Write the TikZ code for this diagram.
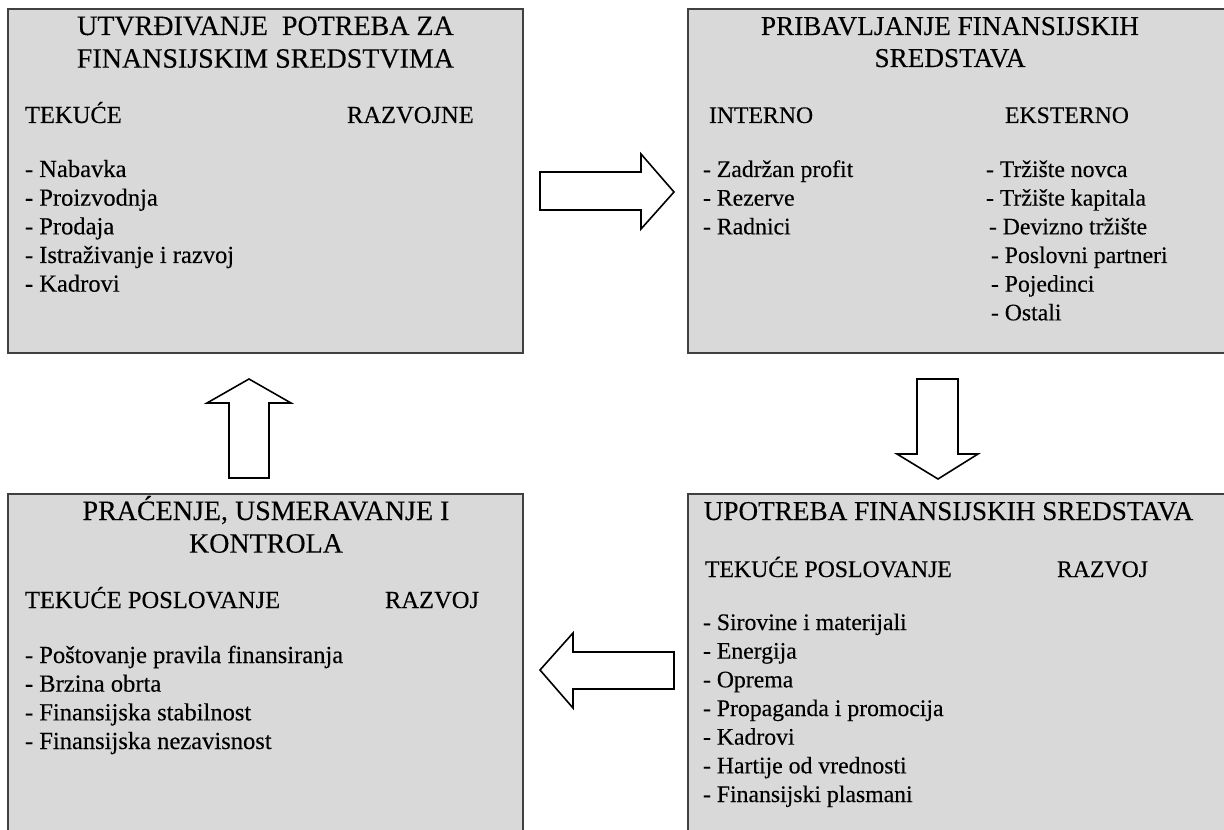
\documentclass[tikz,border=0pt]{standalone}
\usepackage{fontspec}
\setmainfont{Liberation Serif}[FakeBold=0.25]
\definecolor{boxfill}{HTML}{D9D9D9}
\definecolor{boxline}{HTML}{404040}
% one-column text blocks whose reference point is the first baseline
\newcommand{\colL}[1]{\begin{tabular}[t]{@{}l@{}}#1\end{tabular}}
\newcommand{\colC}[1]{\begin{tabular}[t]{@{}c@{}}#1\end{tabular}}
\begin{document}
\begin{tikzpicture}[x=0.75pt,y=-0.75pt,
  panel/.style={draw=boxline, fill=boxfill, line width=1.1pt, anchor=north west,
    inner sep=0pt, outer sep=0pt},
  blockarrow/.style={draw=black, fill=white, line width=1.2pt, line join=miter},
  txt/.style={inner sep=0pt, outer sep=0pt, anchor=base west},
  ttl/.style={inner sep=0pt, outer sep=0pt, anchor=base},
  lefttitle/.style={font=\fontsize{21}{24.5}\selectfont},
  righttitle/.style={font=\fontsize{20.4}{24}\selectfont},
  leftbody/.style={font=\fontsize{18.4}{21.5}\selectfont},
  rightbody/.style={font=\fontsize{17.8}{21.5}\selectfont}]
\useasboundingbox (0,0) rectangle (1224,830);
\clip (0,0) rectangle (1224,830);

% the four panels
\node[panel, minimum width=386.25pt, minimum height=258pt] (need) at (8,9) {};
\node[panel, minimum width=406.5pt, minimum height=258pt] (raise) at (688,9) {};
\node[panel, minimum width=386.25pt, minimum height=260pt] (control) at (8,494) {};
\node[panel, minimum width=406.5pt, minimum height=260pt] (use) at (688,494) {};

% panel 1: determining needs
\node[ttl, lefttitle] (needtitle) at (265.5,35) {\colC{UTVRĐIVANJE~ POTREBA ZA\\FINANSIJSKIM SREDSTVIMA}};
\node[txt, leftbody] (needcur) at (25,123) {TEKUĆE};
\node[txt, leftbody] (needdev) at (347,123) {RAZVOJNE};
\node[txt, leftbody] (needlist) at (25,177) {\colL{- Nabavka\\- Proizvodnja\\- Prodaja\\- Istraživanje i razvoj\\- Kadrovi}};

% panel 2: raising funds
\node[ttl, righttitle] (raisetitle) at (950,35) {\colC{PRIBAVLJANJE FINANSIJSKIH\\SREDSTAVA}};
\node[txt, rightbody] (raiseint) at (709,123) {INTERNO};
\node[txt, rightbody] (raiseext) at (1005,123) {EKSTERNO};
\node[txt, rightbody] (intlist) at (703,177) {\colL{- Zadržan profit\\- Rezerve\\- Radnici}};
\node[txt, rightbody] (extlist) at (986,177) {\colL{- Tržište novca\\- Tržište kapitala\\\hspace*{2.2pt}- Devizno tržište\\\hspace*{3.7pt}- Poslovni partneri\\\hspace*{3.7pt}- Pojedinci\\\hspace*{3.7pt}- Ostali}};

% panel 3: monitoring and control
\node[ttl, lefttitle] (ctrltitle) at (266,520) {\colC{PRAĆENJE, USMERAVANJE I\\KONTROLA}};
\node[txt, leftbody] (ctrlcur) at (25,608) {TEKUĆE POSLOVANJE};
\node[txt, leftbody] (ctrldev) at (385,608) {RAZVOJ};
\node[txt, leftbody] (ctrllist) at (25,663) {\colL{- Poštovanje pravila finansiranja\\- Brzina obrta\\- Finansijska stabilnost\\- Finansijska nezavisnost}};

% panel 4: use of funds
\node[ttl, righttitle] (usetitle) at (948.5,520) {UPOTREBA FINANSIJSKIH SREDSTAVA};
\node[txt, rightbody] (usecur) at (705,577) {TEKUĆE POSLOVANJE};
\node[txt, rightbody] (usedev) at (1057,577) {RAZVOJ};
\node[txt, rightbody] (uselist) at (703,630) {\colL{- Sirovine i materijali\\- Energija\\- Oprema\\- Propaganda i promocija\\- Kadrovi\\- Hartije od vrednosti\\- Finansijski plasmani}};

% block arrows between the panels
\draw[blockarrow] (540,172) -- (641,172) -- (641,154) -- (674,192) -- (641,229) -- (641,210) -- (540,210) -- cycle;
\draw[blockarrow] (917,379) -- (958,379) -- (958,454) -- (978,454) -- (938,479) -- (897,454) -- (917,454) -- cycle;
\draw[blockarrow] (674,652) -- (573,652) -- (573,633) -- (540,670) -- (573,708) -- (573,689) -- (674,689) -- cycle;
\draw[blockarrow] (229,478) -- (229,403) -- (207,403) -- (249,379) -- (291,403) -- (269,403) -- (269,478) -- cycle;
\end{tikzpicture}
\end{document}
